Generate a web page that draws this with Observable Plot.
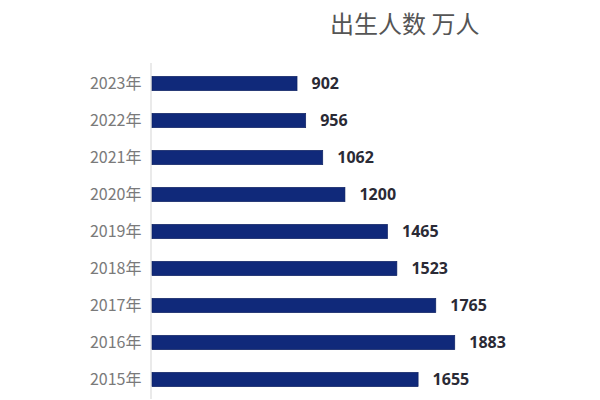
<!DOCTYPE html>
<html>
<head>
<meta charset="utf-8">
<script src="https://cdn.jsdelivr.net/npm/d3@7"></script>
<script src="https://cdn.jsdelivr.net/npm/@observablehq/plot@0.6"></script>
<style>
  html, body { margin: 0; padding: 0; background: #fff; }
  #wrap { position: relative; width: 600px; height: 400px; overflow: hidden; }
  #title { position: absolute; left: 330px; top: 9px; font-family: "Noto Sans CJK SC", sans-serif; font-size: 24px; line-height: 28px; color: #555; white-space: nowrap; }
  #chart { position: absolute; left: 0; top: 0; }
</style>
</head>
<body>
<div id="wrap">
  <div id="chart"></div>
  <div id="title">出生人数 万人</div>
</div>
<script>
const years = ["2023", "2022", "2021", "2020", "2019", "2018", "2017", "2016", "2015"];
const births = [902, 956, 1062, 1200, 1465, 1523, 1765, 1883, 1655];
const yearSuffix = "年";

const data = years.map((y, i) => ({year: y, value: births[i]}));

const chart = Plot.plot({
  width: 600,
  height: 400,
  marginTop: 63,
  marginBottom: 1,
  marginLeft: 152,
  marginRight: 46,
  style: {fontFamily: "'Noto Sans CJK SC', sans-serif", background: "transparent"},
  x: {domain: [0, 2500], axis: null},
  y: {domain: years, paddingInner: 0.6, paddingOuter: 0.3, label: null},
  marks: [
    Plot.ruleX([0], {stroke: "#dcdcdc", strokeWidth: 1.2, dx: -1.5}),
    Plot.barX(data, {x: "value", y: "year", fill: "#10297a", stroke: "#0b1f5e", strokeWidth: 0.6, insetTop: 0.3, insetBottom: 0.3}),
    Plot.text(data, {x: "value", y: "year", text: d => String(d.value), dx: 14, textAnchor: "start",
      fontSize: 16, fontWeight: "bold", fill: "#2a2a35", fontFamily: "'Open Sans', sans-serif"}),
    Plot.axisY({tickSize: 0, tickPadding: 11, fontSize: 16, fill: "#7a7a7a", tickFormat: d => d + yearSuffix, label: null})
  ]
});
document.getElementById("chart").appendChild(chart);
</script>
</body>
</html>
